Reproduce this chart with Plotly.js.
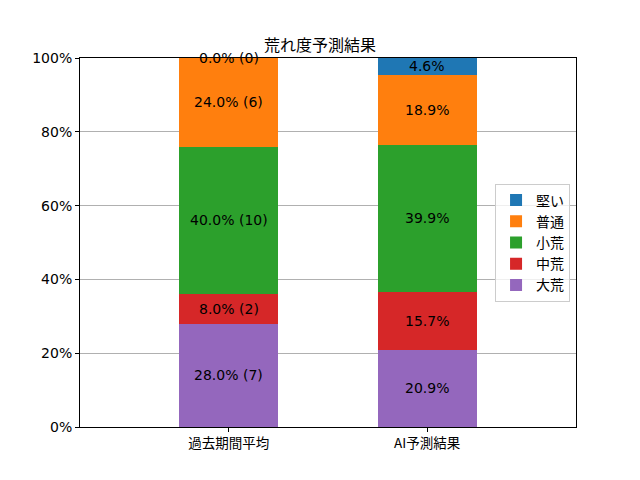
<!DOCTYPE html>
<html>
<head>
<meta charset="utf-8">
<script src="https://cdn.plot.ly/plotly-3.0.1.min.js"></script>
<style>body{margin:0;} #chart{width:640px;height:480px;}</style>
</head>
<body>
<div id="chart"></div>
<script>
// categories and series (percent), bottom to top
const categories = ['過去期間平均', 'AI予測結果'];
const seriesNames = ['大荒', '中荒', '小荒', '普通', '堅い'];
const seriesColors = ['#9467bd', '#d62728', '#2ca02c', '#ff7f0e', '#1f77b4'];
const daikou = [28.0, 20.9];
const chuukou = [8.0, 15.7];
const shoukou = [40.0, 39.9];
const futsuu = [24.0, 18.9];
const katai = [0.0, 4.6];
// race counts for the past period (shown in labels)
const pastCounts = [7, 2, 10, 6, 0];

const seriesValues = [daikou, chuukou, shoukou, futsuu, katai];
const FONT = 'DejaVu Sans, Noto Sans CJK JP, sans-serif';
const CJK = 'Noto Sans CJK JP, DejaVu Sans, sans-serif';

const traces = seriesValues.map((vals, i) => ({
    x: [0, 1],
    y: vals,
    name: seriesNames[i],
    type: 'bar',
    width: 0.5,
    marker: {color: seriesColors[i]},
    hoverinfo: 'none'
}));

// labels centered in each segment
const annotations = [];
const base = [0, 0];
seriesValues.forEach((vals, i) => {
    vals.forEach((v, j) => {
        let txt = v.toFixed(1) + '%';
        if (j === 0) txt += ' (' + pastCounts[i] + ')';
        annotations.push({
            x: j, y: base[j] + v / 2,
            xref: 'x', yref: 'y',
            text: txt, showarrow: false,
            font: {family: FONT, size: 14, color: '#000'}
        });
        base[j] += v;
    });
});

const layout = {
    width: 640, height: 480,
    margin: {l: 80, r: 64, t: 58, b: 53},
    paper_bgcolor: '#fff', plot_bgcolor: '#fff',
    barmode: 'stack',
    showlegend: true,
    title: {
        text: '荒れ度予測結果',
        font: {family: CJK, size: 16, color: '#000'},
        x: 0.5, xanchor: 'center', y: 1 - 45 / 480, yanchor: 'middle'
    },
    font: {family: FONT, size: 14, color: '#000'},
    xaxis: {
        range: [-0.75, 1.75],
        tickvals: [0, 1], ticktext: categories,
        ticks: 'outside', ticklen: 4, tickcolor: '#000',
        showline: true, mirror: true, linecolor: '#000', linewidth: 1,
        showgrid: false, zeroline: false,
        tickfont: {family: CJK, size: 13.5}
    },
    yaxis: {
        range: [0, 100],
        tickvals: [0, 20, 40, 60, 80, 100],
        ticktext: ['0%', '20%', '40%', '60%', '80%', '100%'],
        ticks: 'outside', ticklen: 4, tickcolor: '#000',
        showline: true, mirror: true, linecolor: '#000', linewidth: 1,
        showgrid: true, gridcolor: '#b0b0b0', gridwidth: 1,
        zeroline: false,
        tickfont: {family: FONT, size: 14}
    },
    legend: {
        x: 0.988, xanchor: 'right', y: 0.5, yanchor: 'middle',
        traceorder: 'reversed',
        bgcolor: 'rgba(255,255,255,0.8)', bordercolor: '#cccccc', borderwidth: 1,
        font: {family: CJK, size: 14}
    },
    annotations: annotations
};

Plotly.newPlot('chart', traces, layout, {staticPlot: true});
</script>
</body>
</html>
